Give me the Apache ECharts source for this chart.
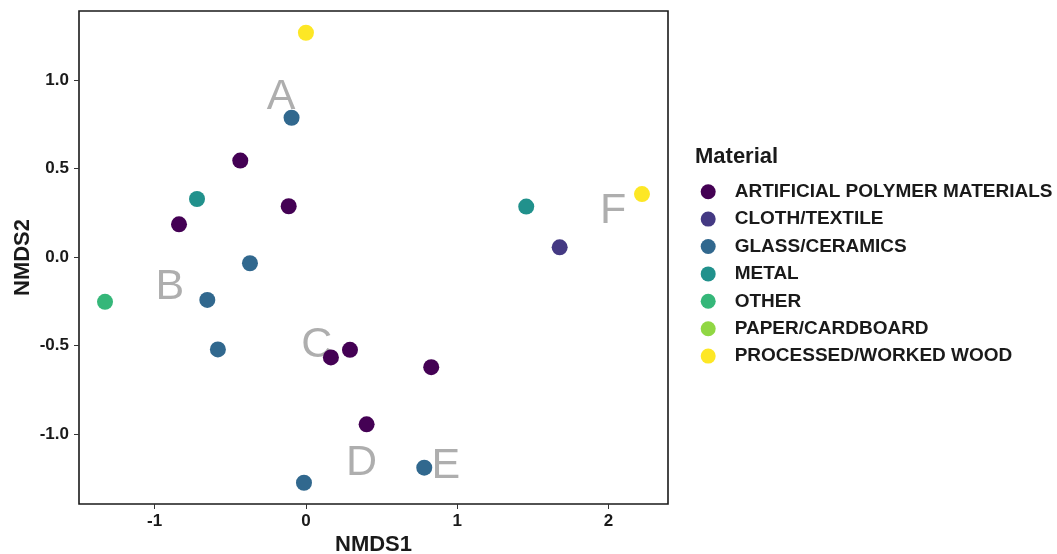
<!DOCTYPE html>
<html><head><meta charset="utf-8">
<script src="https://cdn.jsdelivr.net/npm/echarts@6/dist/echarts.min.js"></script>
<style>html,body{margin:0;padding:0;background:#fff}#c{width:1057px;height:554px}</style>
</head><body><div id="c"></div>
<script>
const materials = ['ARTIFICIAL POLYMER MATERIALS','CLOTH/TEXTILE','GLASS/CERAMICS','METAL','OTHER','PAPER/CARDBOARD','PROCESSED/WORKED WOOD'];
const colors = ['#440154','#443983','#31688E','#21918C','#35B779','#90D743','#FDE725'];
const artificialPolymer = [[-0.434,0.546],[-0.114,0.288],[-0.839,0.186],[0.165,-0.566],[0.291,-0.523],[0.828,-0.621],[0.401,-0.944]];
const clothTextile = [[1.677,0.056]];
const glassCeramics = [[-0.095,0.788],[-0.370,-0.034],[-0.652,-0.241],[-0.582,-0.521],[-0.013,-1.274],[0.782,-1.189]];
const metal = [[-0.720,0.329],[1.456,0.286]];
const other = [[-1.328,-0.252]];
const paperCardboard = [];
const processedWood = [[0.0,1.268],[2.221,0.357]];
const groupLabels = ['A','B','C','D','E','F'];
const groupLabelPos = [[-0.165,0.905],[-0.899,-0.169],[0.071,-0.497],[0.368,-1.164],[0.925,-1.178],[2.031,0.261]];
const xTicks = [-1,0,1,2];
const yTicks = [-1,-0.5,0,0.5,1];
const xTitle = 'NMDS1', yTitle = 'NMDS2', legendTitle = 'Material';

const seriesData = [artificialPolymer, clothTextile, glassCeramics, metal, other, paperCardboard, processedWood];
const FONT = "'Liberation Sans', Arial, sans-serif";

const chart = echarts.init(document.getElementById('c'), null, {renderer:'canvas'});
const series = [{
  type:'scatter', name:'__labels', z:1, silent:true,
  symbolSize:1, itemStyle:{color:'transparent'},
  data: groupLabelPos.map((p,i)=>({value:p, name:groupLabels[i]})),
  label:{show:true, position:'inside', formatter:'{b}', color:'#9a9a9a', fontSize:43, fontFamily:FONT, fontWeight:'normal'}
}];
materials.forEach((m,i)=>{
  series.push({type:'scatter', name:m, z:2, symbol:'circle', symbolSize:16,
    itemStyle:{color:colors[i], opacity:1}, data:seriesData[i]});
});

chart.setOption({
  animation:false,
  backgroundColor:'#fff',
  title:{text:legendTitle, left:695, top:146, padding:0,
    textStyle:{fontFamily:FONT, fontSize:22, fontWeight:'bold', color:'#1a1a1a'}},
  legend:{orient:'vertical', left:700.7, top:182.2, padding:0,
    data:materials, icon:'circle', itemWidth:43, itemHeight:15, itemGap:8.4,
    textStyle:{fontFamily:FONT, fontSize:19, fontWeight:'bold', color:'#1a1a1a'}},
  grid:{left:79, right:389, top:11, bottom:50, show:true, containLabel:false, outerBoundsMode:'none',
    borderColor:'#1a1a1a', borderWidth:1.6, backgroundColor:'#fff'},
  xAxis:{type:'value', min:-1.5, max:2.393, splitLine:{show:false},
    name:xTitle, nameLocation:'middle', nameGap:30, nameMoveOverlap:false,
    nameTextStyle:{fontFamily:FONT, fontSize:22, fontWeight:'bold', color:'#1a1a1a'},
    axisLine:{show:false, onZero:false},
    axisTick:{show:true, length:5, customValues:xTicks, lineStyle:{color:'#333', width:1}},
    axisLabel:{customValues:xTicks, margin:9, fontFamily:FONT, fontSize:17, fontWeight:'bold', color:'#1a1a1a',
      formatter:v=>String(v)}},
  yAxis:{type:'value', min:-1.394, max:1.391, splitLine:{show:false},
    name:yTitle, nameLocation:'middle', nameGap:45, nameRotate:90, nameMoveOverlap:false,
    nameTextStyle:{fontFamily:FONT, fontSize:22, fontWeight:'bold', color:'#1a1a1a'},
    axisLine:{show:false, onZero:false},
    axisTick:{show:true, length:5, customValues:yTicks, lineStyle:{color:'#333', width:1}},
    axisLabel:{customValues:yTicks, margin:10, fontFamily:FONT, fontSize:17, fontWeight:'bold', color:'#1a1a1a',
      formatter:v=>Number(v).toFixed(1)}},
  series: series
});
</script></body></html>
